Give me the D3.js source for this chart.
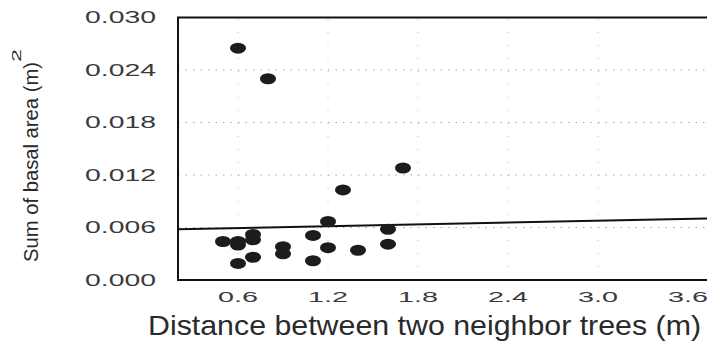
<!DOCTYPE html>
<html>
<head>
<meta charset="utf-8">
<script src="https://cdn.jsdelivr.net/npm/d3@7/dist/d3.min.js"></script>
<style>
  html, body { margin: 0; padding: 0; background: #fff; }
  svg { display: block; }
  text { font-family: "Liberation Sans", Arial, sans-serif; fill: #1e1e1e; }
</style>
</head>
<body>
<svg id="chart" width="707" height="344"></svg>
<script>
// Distance between neighbour trees (m) and summed basal area (m²)
const distance = [0.6, 0.8, 1.7, 1.3, 1.2, 1.6, 1.6, 1.4, 1.2, 1.1, 1.1, 0.9, 0.9, 0.7, 0.7, 0.7, 0.6, 0.6, 0.6, 0.5];
const basalArea = [0.0265, 0.0230, 0.0128, 0.0103, 0.0067, 0.0058, 0.0041, 0.0034, 0.0037, 0.0051, 0.0022, 0.0038, 0.0030, 0.0052, 0.0046, 0.0026, 0.0044, 0.0040, 0.0019, 0.0044];

// Fitted trend line: basal area = intercept + slope * distance
const fitIntercept = 0.00572;
const fitSlope = 0.00035;

const xTicks = [0.6, 1.2, 1.8, 2.4, 3.0, 3.6];
const yTicks = [0.000, 0.006, 0.012, 0.018, 0.024, 0.030];
const xDomain = [0.2, 3.8];
const yDomain = [0, 0.030];

const svg = d3.select("#chart");

const x = d3.scaleLinear().domain(xDomain).range([178, 718]);
const y = d3.scaleLinear().domain(yDomain).range([280, 17.5]);

// dotted grid
const grid = svg.append("g");
grid.selectAll("line.h").data(yTicks.slice(1, -1)).join("line")
  .attr("x1", x(xDomain[0])).attr("x2", x(xDomain[1]))
  .attr("y1", d => y(d)).attr("y2", d => y(d))
  .attr("stroke", "#a8a8a8").attr("stroke-width", 1)
  .attr("stroke-dasharray", "1.5,6");
grid.selectAll("line.v").data(xTicks.slice(0, -1)).join("line")
  .attr("x1", d => x(d)).attr("x2", d => x(d))
  .attr("y1", y(yDomain[0])).attr("y2", y(yDomain[1]))
  .attr("stroke", "#b8b8b8").attr("stroke-width", 1)
  .attr("stroke-dasharray", "1,12");

// trend line
svg.append("line")
  .attr("x1", x(xDomain[0])).attr("y1", y(fitIntercept + fitSlope * xDomain[0]))
  .attr("x2", x(xDomain[1])).attr("y2", y(fitIntercept + fitSlope * xDomain[1]))
  .attr("stroke", "#111").attr("stroke-width", 2);

// points
svg.append("g").selectAll("ellipse")
  .data(distance.map((d, i) => [d, basalArea[i]]))
  .join("ellipse")
  .attr("cx", d => x(d[0])).attr("cy", d => y(d[1]))
  .attr("rx", 8).attr("ry", 5.5)
  .attr("fill", "#1c1c1c");

// frame
const frame = svg.append("g").attr("stroke", "#111").attr("stroke-width", 2).attr("fill", "none");
frame.append("rect")
  .attr("x", x(xDomain[0])).attr("y", y(yDomain[1]))
  .attr("width", x(xDomain[1]) - x(xDomain[0]))
  .attr("height", y(yDomain[0]) - y(yDomain[1]));

// y tick labels
svg.append("g").selectAll("text").data(yTicks).join("text")
  .attr("x", 156).attr("y", d => y(d) + 5.8)
  .attr("text-anchor", "end")
  .attr("font-size", 16)
  .style("fill", "#3a3a3a")
  .attr("textLength", 71).attr("lengthAdjust", "spacingAndGlyphs")
  .text(d => d3.format(".3f")(d));

// x tick labels
svg.append("g").selectAll("text").data(xTicks).join("text")
  .attr("x", d => x(d) - 20).attr("y", 301.7)
  .attr("font-size", 14)
  .style("fill", "#3a3a3a")
  .attr("textLength", 40).attr("lengthAdjust", "spacingAndGlyphs")
  .text(d => d3.format(".1f")(d));

// x axis title
svg.append("text")
  .attr("x", 148).attr("y", 335)
  .attr("font-size", 28)
  .style("fill", "#2a2a2a")
  .attr("textLength", 553).attr("lengthAdjust", "spacingAndGlyphs")
  .text("Distance between two neighbor trees (m)");

// y axis title
svg.append("text")
  .attr("transform", "translate(38,262) rotate(-90)")
  .attr("font-size", 21)
  .style("fill", "#2a2a2a")
  .attr("textLength", 200).attr("lengthAdjust", "spacingAndGlyphs")
  .text("Sum of basal area (m)");
svg.append("text")
  .attr("transform", "translate(20.5,62) rotate(-90)")
  .attr("font-size", 13)
  .style("fill", "#2a2a2a")
  .attr("textLength", 13).attr("lengthAdjust", "spacingAndGlyphs")
  .text("2");
</script>
</body>
</html>
